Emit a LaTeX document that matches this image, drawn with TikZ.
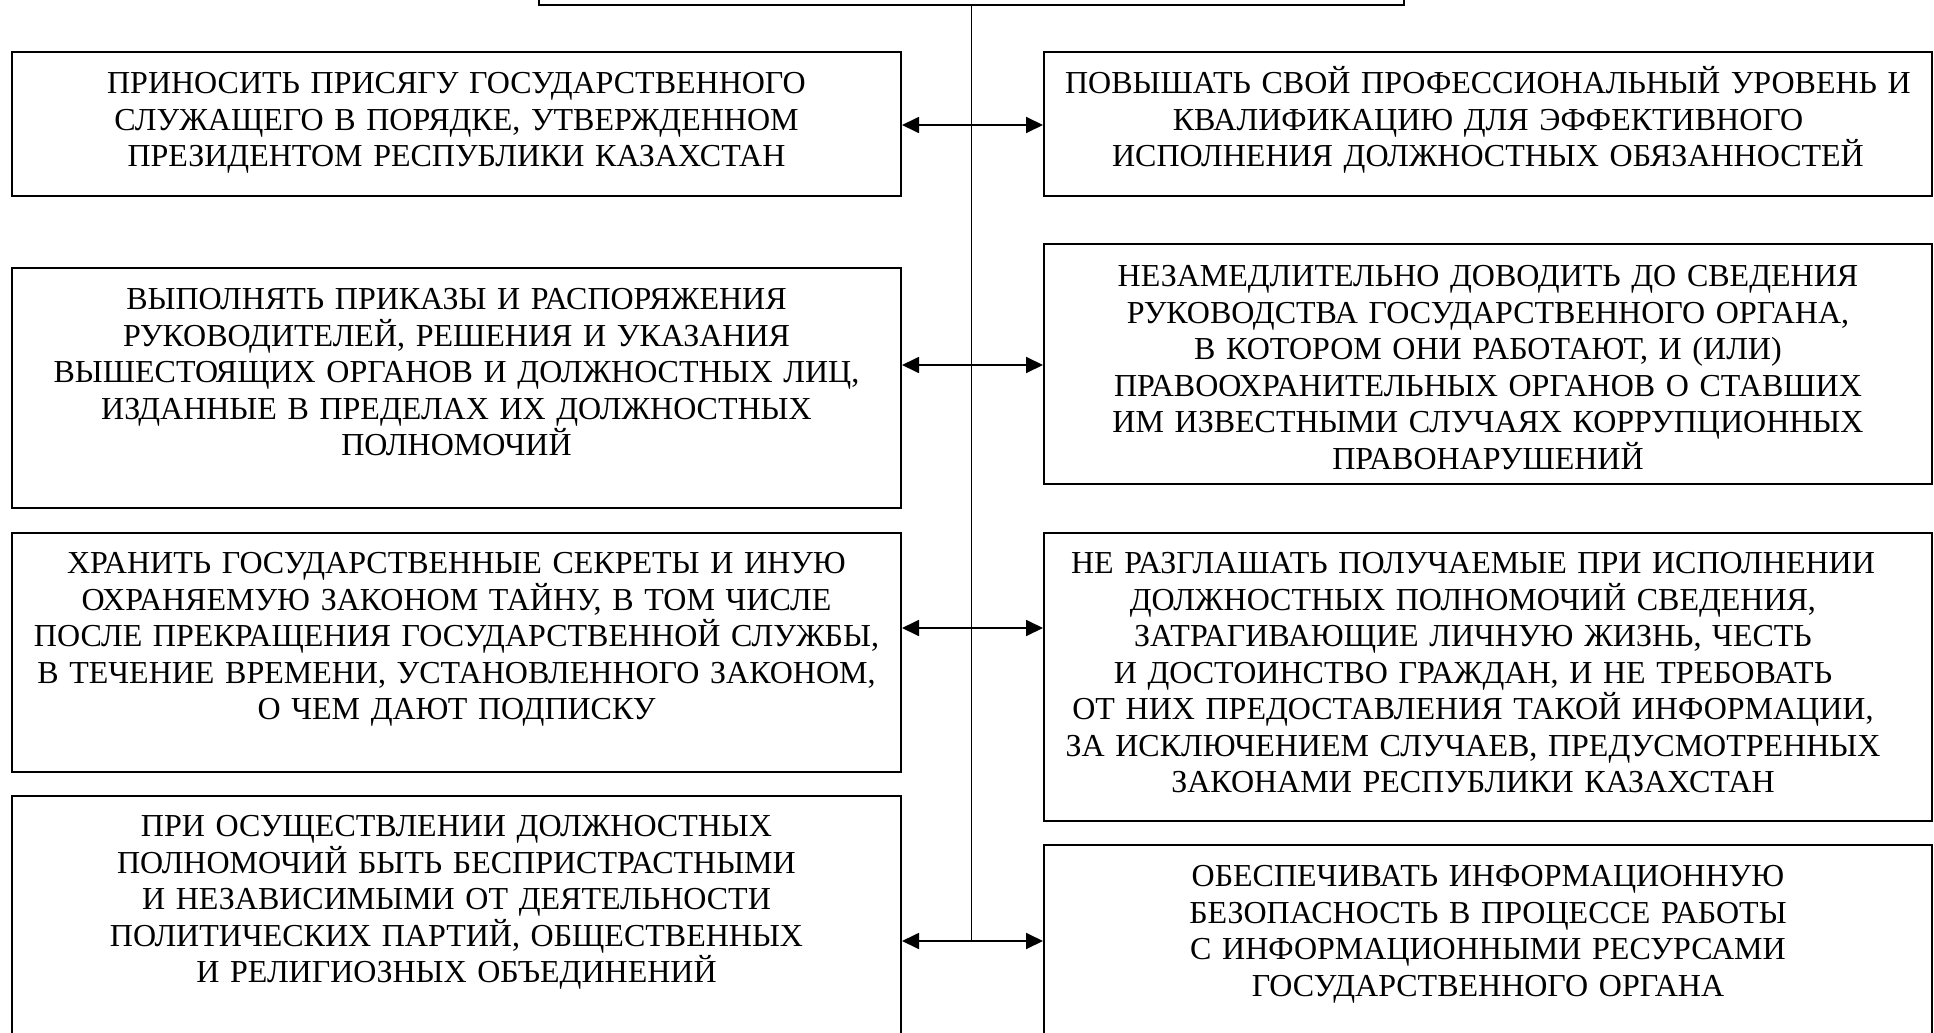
\documentclass[tikz,border=0pt]{standalone}
\usepackage{fontspec}
\setmainfont{Liberation Serif}
\usetikzlibrary{arrows.meta}
\begin{document}
\begin{tikzpicture}[x=0.5pt,y=-0.5pt,
  boxnode/.style={draw=black,line width=1pt,rectangle,inner sep=0pt,minimum height=#1},
  lbox/.style={boxnode=#1,minimum width=444.5pt},
  rbox/.style={boxnode=#1,minimum width=444pt},
  txt/.style={anchor=base,inner sep=0pt,text width=430pt,align=center,font=\fontsize{16}{18.25}\selectfont},
  link/.style={line width=0.9pt,{Triangle[length=8.5pt,width=8pt]}-{Triangle[length=8.5pt,width=8pt]}},
  trunk/.style={line width=0.9pt}]
\useasboundingbox (0,0) rectangle (1934,1033);
\clip (0,0) rectangle (1934,1033);
% top box
\node[boxnode=30pt,minimum width=432.5pt] (T) at (971.5,-25) {};
% left boxes
\node[lbox=72pt]  (L1) at (456.5,124) {};
\node[lbox=120pt] (L2) at (456.5,388) {};
\node[lbox=119.5pt] (L3) at (456.5,652.5) {};
\node[lbox=127pt] (L4) at (456.5,923) {};
% right boxes
\node[rbox=72pt]  (R1) at (1488,124) {};
\node[rbox=120pt] (R2) at (1488,364) {};
\node[rbox=144pt] (R3) at (1488,677) {};
\node[rbox=102.5pt] (R4) at (1488,947.5) {};
% texts
\node[txt] at (456.5,93.5) {ПРИНОСИТЬ ПРИСЯГУ ГОСУДАРСТВЕННОГО\\СЛУЖАЩЕГО В ПОРЯДКЕ, УТВЕРЖДЕННОМ\\ПРЕЗИДЕНТОМ РЕСПУБЛИКИ КАЗАХСТАН};
\node[txt] at (456.5,309.5) {ВЫПОЛНЯТЬ ПРИКАЗЫ И РАСПОРЯЖЕНИЯ\\РУКОВОДИТЕЛЕЙ, РЕШЕНИЯ И УКАЗАНИЯ\\ВЫШЕСТОЯЩИХ ОРГАНОВ И ДОЛЖНОСТНЫХ ЛИЦ,\\ИЗДАННЫЕ В ПРЕДЕЛАХ ИХ ДОЛЖНОСТНЫХ\\ПОЛНОМОЧИЙ};
\node[txt] at (456.5,573.5) {ХРАНИТЬ ГОСУДАРСТВЕННЫЕ СЕКРЕТЫ И ИНУЮ\\ОХРАНЯЕМУЮ ЗАКОНОМ ТАЙНУ, В ТОМ ЧИСЛЕ\\ПОСЛЕ ПРЕКРАЩЕНИЯ ГОСУДАРСТВЕННОЙ СЛУЖБЫ,\\В ТЕЧЕНИЕ ВРЕМЕНИ, УСТАНОВЛЕННОГО ЗАКОНОМ,\\О ЧЕМ ДАЮТ ПОДПИСКУ};
\node[txt] at (456.5,836.5) {ПРИ ОСУЩЕСТВЛЕНИИ ДОЛЖНОСТНЫХ\\ПОЛНОМОЧИЙ БЫТЬ БЕСПРИСТРАСТНЫМИ\\И НЕЗАВИСИМЫМИ ОТ ДЕЯТЕЛЬНОСТИ\\ПОЛИТИЧЕСКИХ ПАРТИЙ, ОБЩЕСТВЕННЫХ\\И РЕЛИГИОЗНЫХ ОБЪЕДИНЕНИЙ};
\node[txt] at (1488,93.5) {ПОВЫШАТЬ СВОЙ ПРОФЕССИОНАЛЬНЫЙ УРОВЕНЬ И\\КВАЛИФИКАЦИЮ ДЛЯ ЭФФЕКТИВНОГО\\ИСПОЛНЕНИЯ ДОЛЖНОСТНЫХ ОБЯЗАННОСТЕЙ};
\node[txt] at (1488,286.5) {НЕЗАМЕДЛИТЕЛЬНО ДОВОДИТЬ ДО СВЕДЕНИЯ\\РУКОВОДСТВА ГОСУДАРСТВЕННОГО ОРГАНА,\\В КОТОРОМ ОНИ РАБОТАЮТ, И (ИЛИ)\\ПРАВООХРАНИТЕЛЬНЫХ ОРГАНОВ О СТАВШИХ\\ИМ ИЗВЕСТНЫМИ СЛУЧАЯХ КОРРУПЦИОННЫХ\\ПРАВОНАРУШЕНИЙ};
\node[txt] at (1473,573.5) {НЕ РАЗГЛАШАТЬ ПОЛУЧАЕМЫЕ ПРИ ИСПОЛНЕНИИ\\ДОЛЖНОСТНЫХ ПОЛНОМОЧИЙ СВЕДЕНИЯ,\\ЗАТРАГИВАЮЩИЕ ЛИЧНУЮ ЖИЗНЬ, ЧЕСТЬ\\И ДОСТОИНСТВО ГРАЖДАН, И НЕ ТРЕБОВАТЬ\\ОТ НИХ ПРЕДОСТАВЛЕНИЯ ТАКОЙ ИНФОРМАЦИИ,\\ЗА ИСКЛЮЧЕНИЕМ СЛУЧАЕВ, ПРЕДУСМОТРЕННЫХ\\ЗАКОНАМИ РЕСПУБЛИКИ КАЗАХСТАН};
\node[txt] at (1488,886.5) {ОБЕСПЕЧИВАТЬ ИНФОРМАЦИОННУЮ\\БЕЗОПАСНОСТЬ В ПРОЦЕССЕ РАБОТЫ\\С ИНФОРМАЦИОННЫМИ РЕСУРСАМИ\\ГОСУДАРСТВЕННОГО ОРГАНА};
% connector levels
\coordinate (a1) at (972,125);
\coordinate (a2) at (972,365);
\coordinate (a3) at (972,628);
\coordinate (a4) at (972,941);
\draw[trunk] (T.south) -- (T.south |- a4);
\draw[link] (L1.east |- a1) -- (R1.west |- a1);
\draw[link] (L2.east |- a2) -- (R2.west |- a2);
\draw[link] (L3.east |- a3) -- (R3.west |- a3);
\draw[link] (L4.east |- a4) -- (R4.west |- a4);
\end{tikzpicture}
\end{document}
